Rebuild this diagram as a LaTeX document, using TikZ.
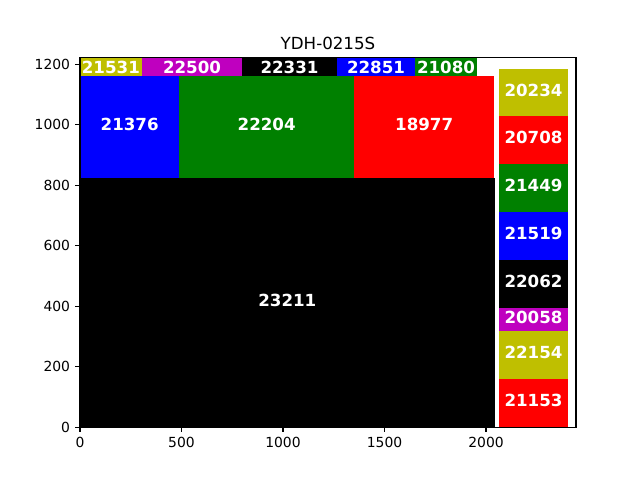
\documentclass[tikz,border=0pt]{standalone}
\usepackage{fontspec}
\setmainfont{DejaVu Sans}
\definecolor{mplY}{rgb}{0.75,0.75,0}
\definecolor{mplM}{rgb}{0.75,0,0.75}
\definecolor{mplG}{rgb}{0,0.5,0}
\definecolor{mplB}{rgb}{0,0,1}
\definecolor{mplR}{rgb}{1,0,0}
\definecolor{mplK}{rgb}{0,0,0}
\newcommand\barrect[7]{%
  \fill[#5] (#1,#2) rectangle (#3,#4);
  \node[lbl] (n#6) at ({(#1+#3)/2},{(#2+#4)/2+#7}) {#6};}
\begin{document}
\begin{tikzpicture}[x=0.75pt,y=-0.75pt,
  lbl/.style={text=white,font=\fontsize{12.5}{14}\selectfont\bfseries,inner sep=0pt},
  ticklbl/.style={font=\fontsize{10.42}{12}\selectfont,inner sep=0pt},
  titlelbl/.style={font=\fontsize{12.5}{14}\selectfont,inner sep=0pt,anchor=base},
  spine/.style={line width=0.83pt,line cap=rect},
  tickmark/.style={line width=0.83pt}]
\useasboundingbox[fill=white] (0,0) rectangle (640,480);
% big black block
\barrect{80}{177.7}{494.6}{427.2}{mplK}{23211}{-2.2}
% second row
\barrect{80}{75.7}{179.3}{177.7}{mplB}{21376}{-2}
\barrect{179.3}{75.7}{354}{177.7}{mplG}{22204}{-2}
\barrect{354}{75.7}{494.3}{177.7}{mplR}{18977}{-2}
% top row
\barrect{80}{57.8}{141.7}{75.7}{mplY}{21531}{0.6}
\barrect{141.7}{57.8}{242.3}{75.7}{mplM}{22500}{0.6}
\barrect{242.3}{57.8}{336.7}{75.7}{mplK}{22331}{0.6}
\barrect{336.7}{57.8}{415.3}{75.7}{mplB}{22851}{0.6}
\barrect{415.3}{57.8}{476.7}{75.7}{mplG}{21080}{0.6}
% right column
\barrect{499.3}{69}{567.7}{116}{mplY}{20234}{-2.2}
\barrect{499.3}{116}{567.7}{164}{mplR}{20708}{-2.2}
\barrect{499.3}{164}{567.7}{212}{mplG}{21449}{-2.2}
\barrect{499.3}{212}{567.7}{259.7}{mplB}{21519}{-2.2}
\barrect{499.3}{259.7}{567.7}{308}{mplK}{22062}{-2.2}
\barrect{499.3}{308}{567.7}{330.7}{mplM}{20058}{-1.5}
\barrect{499.3}{330.7}{567.7}{379}{mplY}{22154}{-2.2}
\barrect{499.3}{379}{567.7}{427.2}{mplR}{21153}{-2.2}
% axes frame
\coordinate (axTL) at (80,57.8);
\coordinate (axBR) at (576,427.2);
\draw[spine] (axTL) rectangle (axBR);
% x ticks
\foreach \v in {0,500,1000,1500,2000}{
  \pgfmathsetmacro\px{80+\v*0.203}
  \draw[tickmark] (\px,427.2) -- (\px,432.06);
  \node[ticklbl,anchor=north] (xt\v) at (\px,436.9) {\v};
}
% y ticks
\foreach \v in {0,200,400,600,800,1000,1200}{
  \pgfmathsetmacro\py{427.2-\v*0.3025}
  \draw[tickmark] (80,\py) -- (75.14,\py);
  \node[ticklbl,anchor=east] (yt\v) at (70.3,\py) {\v};
}
\node[titlelbl] (title) at (328,49.3) {YDH-0215S};
\end{tikzpicture}
\end{document}
